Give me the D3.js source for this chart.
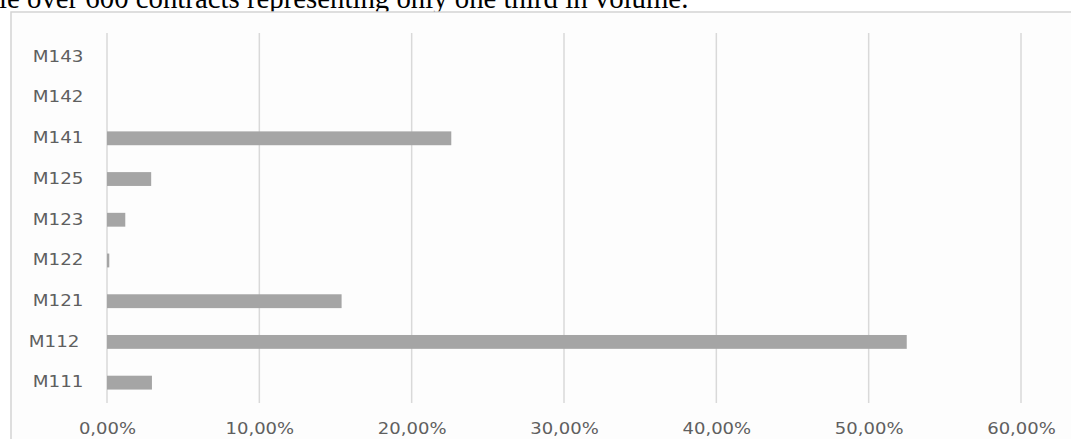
<!DOCTYPE html>
<html>
<head>
<meta charset="utf-8">
<script src="https://cdn.jsdelivr.net/npm/d3@7"></script>
<style>
  html, body { margin: 0; padding: 0; background: #ffffff; }
  svg { display: block; }
</style>
</head>
<body>
<svg id="chart" width="1071" height="439"></svg>
<script>
// Share of contracts by measure code (fraction of total)
const categories = ["M143", "M142", "M141", "M125", "M123", "M122", "M121", "M112", "M111"];
const shares = [0, 0, 0.226, 0.029, 0.012, 0.0015, 0.154, 0.525, 0.0295];
const tickValues = [0, 0.1, 0.2, 0.3, 0.4, 0.5, 0.6];
const tickLabels = ["0,00%", "10,00%", "20,00%", "30,00%", "40,00%", "50,00%", "60,00%"];
const caption = "le over 600 contracts representing only one third in volume.";

const svg = d3.select("#chart");
const W = 1071, H = 439;

// Caption line above the chart frame
svg.append("text")
  .attr("x", -1)
  .attr("y", 8)
  .attr("font-family", "'Liberation Serif', 'Times New Roman', serif")
  .attr("font-size", 28.8)
  .attr("fill", "#000")
  .text(caption);

// Chart frame with a faint drop shadow along the top edge
svg.append("line")
  .attr("x1", 11).attr("x2", W).attr("y1", 13.5).attr("y2", 13.5)
  .attr("stroke", "#ececec").attr("stroke-width", 2);
svg.append("rect")
  .attr("x", 11).attr("y", 12)
  .attr("width", W + 20).attr("height", H)
  .attr("fill", "#fdfdfd")
  .attr("stroke", "#d4d4d4")
  .attr("stroke-width", 1.5);

const x = d3.scaleLinear().domain([0, 0.6]).range([107, 1021]);
const y = d3.scaleBand().domain(categories).range([36.5, 403]).paddingInner(0.66).paddingOuter(0.33);

// Vertical gridlines
svg.append("g")
  .selectAll("line")
  .data(tickValues)
  .join("line")
  .attr("x1", d => x(d)).attr("x2", d => x(d))
  .attr("y1", 33).attr("y2", 403)
  .attr("stroke", "#d9d9d9")
  .attr("stroke-width", 1.5);

// Bars
svg.append("g")
  .selectAll("rect")
  .data(categories)
  .join("rect")
  .attr("x", x(0))
  .attr("y", d => y(d))
  .attr("width", (d, i) => x(shares[i]) - x(0))
  .attr("height", y.bandwidth())
  .attr("fill", "#a5a5a5");

// Widen label glyphs horizontally
function widen(sel, factor) {
  sel.each(function () {
    const len = this.getComputedTextLength();
    d3.select(this)
      .attr("textLength", len * factor)
      .attr("lengthAdjust", "spacingAndGlyphs");
  });
}

// Category axis labels
const yAxis = d3.axisLeft(y).tickSize(0).tickPadding(0);
const gy = svg.append("g").attr("transform", "translate(83.5,0)").call(yAxis);
gy.select(".domain").remove();
gy.selectAll("text")
  .attr("font-family", "'DejaVu Sans', Verdana, sans-serif")
  .attr("font-size", 15)
  .attr("fill", "#5f5f5f")
  .attr("dx", d => d === "M112" ? -4 : 0)
  .call(widen, 1.22);

// Value axis labels
const xAxis = d3.axisBottom(x).tickValues(tickValues)
  .tickFormat((d, i) => tickLabels[i]).tickSize(0).tickPadding(0);
const gx = svg.append("g").attr("transform", "translate(0,423)").call(xAxis);
gx.select(".domain").remove();
gx.selectAll("text")
  .attr("font-family", "'DejaVu Sans', Verdana, sans-serif")
  .attr("font-size", 15)
  .attr("fill", "#5f5f5f")
  .call(widen, 1.2);
</script>
</body>
</html>
